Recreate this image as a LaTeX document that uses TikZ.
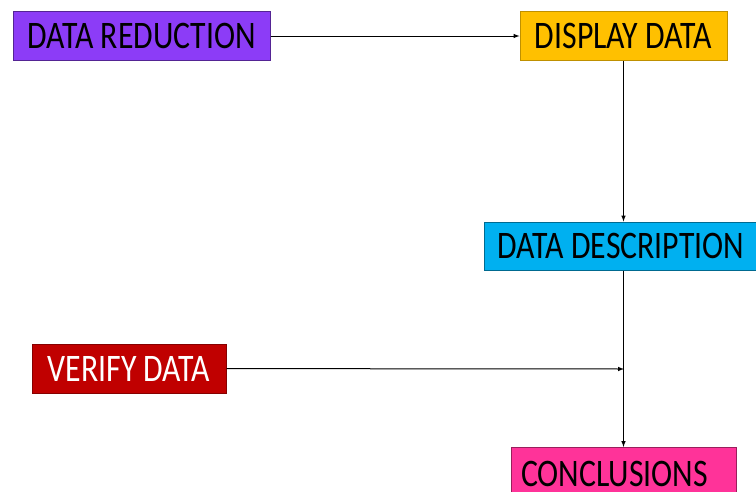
\documentclass[tikz,border=0pt]{standalone}
\usepackage{fontspec}
\setmainfont[FakeStretch=0.815]{Carlito}
\usepackage{tikz}
\definecolor{reductionfill}{RGB}{140,60,247}
\definecolor{displayfill}{RGB}{255,192,0}
\definecolor{descriptionfill}{RGB}{0,176,240}
\definecolor{verifyfill}{RGB}{192,0,0}
\definecolor{conclusionfill}{RGB}{255,51,153}
\tikzset{
	boxstyle/.style={rectangle,inner sep=0pt,minimum height=49pt,line width=1pt,font=\fontsize{39}{44}\selectfont},
	reductionstyle/.style={boxstyle,draw=reductionfill!60!black,fill=reductionfill,minimum width=257pt},
	displaystyle/.style={boxstyle,draw=displayfill!75!black,fill=displayfill,minimum width=207pt},
	descriptionstyle/.style={boxstyle,draw=descriptionfill!60!black,fill=descriptionfill,minimum width=274pt,minimum height=48pt},
	verifystyle/.style={boxstyle,draw=verifyfill!70!black,fill=verifyfill,text=white,minimum width=194pt},
	conclusionstyle/.style={boxstyle,draw=conclusionfill!60!black,fill=conclusionfill,minimum width=225pt,minimum height=53pt,text width=205pt,align=left},
	arrowstyle/.style={-latex,line width=1pt}
}
\begin{document}
\begin{tikzpicture}[x=1pt,y=-1pt]
		\useasboundingbox (0,0) rectangle (756,491);
		\node[reductionstyle] (reduction) at (141.5,36) {DATA REDUCTION};
		\node[displaystyle] (display) at (623.5,36) {DISPLAY DATA};
		\node[descriptionstyle] (description) at (621,246) {DATA DESCRIPTION};
		\node[verifystyle] (verify) at (129,368.5) {VERIFY DATA};
		\node[conclusionstyle] (conclusions) at (623.5,474) {CONCLUSIONS};
		\coordinate (join) at (624,369);
		\draw[arrowstyle] (reduction)--(display);
		\draw[arrowstyle] (display.south)--(display.south |- description.north);
		\draw[arrowstyle] (display.south |- description.south)--(display.south |- conclusions.north);
		\draw[arrowstyle] (verify)--(join);
		\end{tikzpicture}
\end{document}
